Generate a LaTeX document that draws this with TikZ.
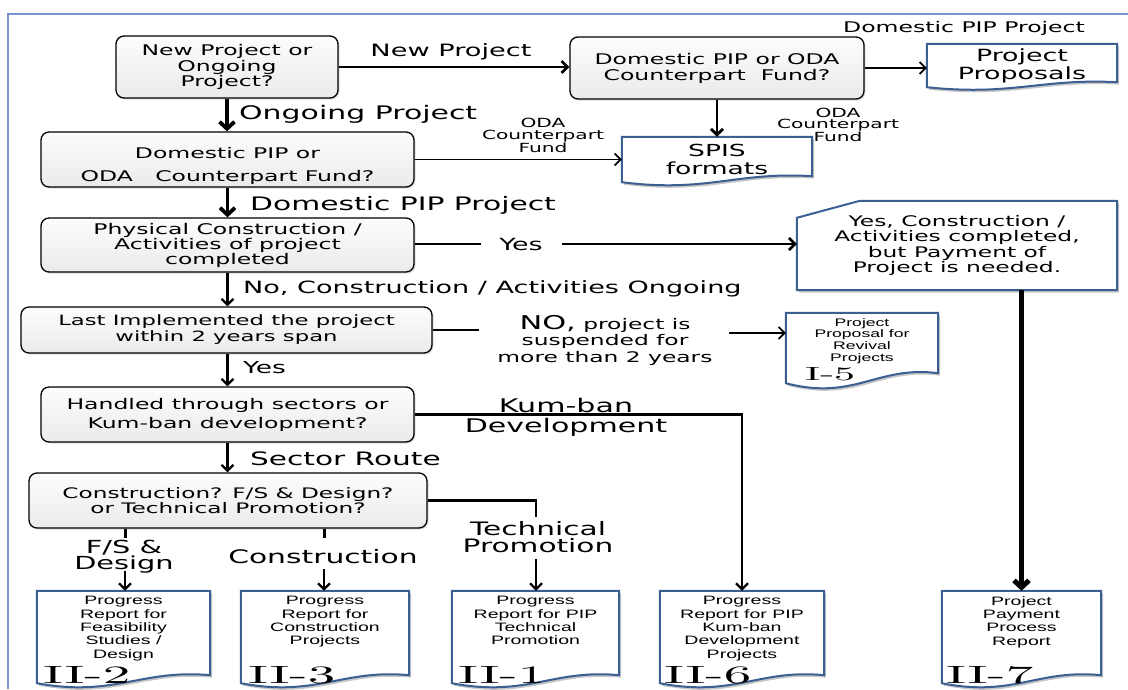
\documentclass[tikz,border=0pt]{standalone}
\usepackage{fontspec}
\setmainfont{DejaVu Sans}[FakeStretch=1.6]
\newfontfamily\arf{Liberation Sans}[FakeStretch=1.6]
\newfontfamily\cmf{lmroman10-regular}[Extension=.otf, FakeStretch=2.2]
\usetikzlibrary{arrows.meta,calc,backgrounds,shadows}
\definecolor{docblue}{RGB}{60,95,145}
\definecolor{framblue}{RGB}{120,150,205}
\newcommand\fsz[2]{\fontsize{#1}{#2}\selectfont}
\newcommand\mkdoc[2]{%
  \begin{scope}[transform canvas={shift={(2pt,-2.5pt)}}]
    \fill[gray!45] (#1.north west) -- (#1.north east) -- ($(#1.south east)+(0,-#2)$)
      .. controls ($(#1.south east)!0.4!(#1.south west)+(0,-1.8*#2)$) and ($(#1.south west)!0.45!(#1.south east)+(0,1.8*#2)$) .. (#1.south west) -- cycle;
  \end{scope}
  \draw[docline] (#1.north west) -- (#1.north east) -- ($(#1.south east)+(0,-#2)$)
      .. controls ($(#1.south east)!0.4!(#1.south west)+(0,-1.8*#2)$) and ($(#1.south west)!0.45!(#1.south east)+(0,1.8*#2)$) .. (#1.south west) -- cycle;
}
\begin{document}
\begin{tikzpicture}[x=1pt,y=-1pt,
  box/.style={rounded corners=8pt, draw=black, line width=1.3pt, top color=gray!2, bottom color=gray!16,
    align=center, inner sep=0pt, drop shadow={shadow xshift=1.5pt, shadow yshift=-1.5pt, opacity=0.25}},
  docn/.style={inner sep=0pt, align=center},
  docline/.style={draw=docblue, line width=2pt, fill=white},
  lbl/.style={inner sep=0pt, align=center},
  plain/.style={line width=2.2pt},
  conn/.style={line width=2.2pt, -{Straight Barb[length=6pt,width=12pt]}},
  bconn/.style={line width=3.8pt, -{Straight Barb[length=7pt,width=15pt]}},
]
\useasboundingbox (0,0) rectangle (1128,689);

% decision boxes
\node[box, minimum width=222pt, minimum height=62pt, font=\fsz{14.7}{15.5}] (n1) at (227,67) {New Project or\\Ongoing\\Project?};
\node[box, minimum width=294pt, minimum height=62pt, font=\fsz{14.7}{16}] (n2) at (717,68) {Domestic PIP or ODA\\Counterpart\ \ Fund?};
\node[box, minimum width=373pt, minimum height=55pt, font=\fsz{14.7}{23}] (n3) at (227.5,159.5) {\rule{0pt}{24pt}Domestic PIP or\\ODA\ \ \ Counterpart Fund?};
\node[box, minimum width=373pt, minimum height=54pt, font=\fsz{14.7}{15}] (n4) at (227.5,245) {Physical Construction /\\Activities of project\\completed};
\node[box, minimum width=411pt, minimum height=46pt, font=\fsz{14.2}{16}] (n5) at (226.5,330) {Last Implemented the project\\within 2 years span};
\node[box, minimum width=373pt, minimum height=55pt, font=\fsz{14.7}{19}] (n6) at (227.5,414.5) {Handled through sectors or\\Kum-ban development?};
\node[box, minimum width=398pt, minimum height=55pt, font=\fsz{14.5}{15}] (n7) at (228,500.5) {Construction? F/S \& Design?\\or Technical Promotion?};

% document nodes
\node[docn, minimum width=190pt, minimum height=43pt, font=\fsz{16.8}{18}] (pp) at (1022,65.5) {Project\\Proposals};
\node[docn, minimum width=190pt, minimum height=45pt, font=\fsz{16.6}{18}] (spis) at (717,159.5) {SPIS\\formats};
\node[docn, minimum width=152pt, minimum height=70pt] (i5) at (862,348) {};
\node[lbl, anchor=north, font=\arf\fsz{11}{11.7}] (i5t) at (862,318) {Project\\Proposal for\\Revival\\Projects};
\node[lbl, anchor=base west, font=\cmf\fsz{19}{20}] (i5l) at (805,380) {I-5};
\node[docn, minimum width=320pt, minimum height=89pt, font=\fsz{14.6}{15.5}] (card) at (957,245.5) {Yes, Construction /\\Activities completed,\\but Payment of\\Project is needed.};

\node[docn, minimum width=173pt, minimum height=92pt] (d2) at (123.5,637) {};
\node[docn, minimum width=168pt, minimum height=92pt] (d3) at (325,637) {};
\node[docn, minimum width=167pt, minimum height=92pt] (d1) at (535.5,637) {};
\node[docn, minimum width=164pt, minimum height=92pt] (d6) at (742,637) {};
\node[docn, minimum width=159pt, minimum height=92pt] (d7) at (1021.5,637) {};
\node[lbl, anchor=north, font=\arf\fsz{12.2}{13.4}] (d2t) at (123.5,596) {Progress\\Report for\\Feasibility\\Studies /\\Design};
\node[lbl, anchor=north, font=\arf\fsz{12.2}{13.4}] (d3t) at (325,596) {Progress\\Report for\\Construction\\Projects};
\node[lbl, anchor=north, font=\arf\fsz{12.2}{13.4}] (d1t) at (535.5,596) {Progress\\Report for PIP\\Technical\\Promotion};
\node[lbl, anchor=north, font=\arf\fsz{12.2}{13.4}] (d6t) at (742,596) {Progress\\Report for PIP\\Kum-ban\\Development\\Projects};
\node[lbl, anchor=north, font=\arf\fsz{12.2}{13.4}] (d7t) at (1021.5,596) {Project\\Payment\\Process\\Report};
\node[lbl, anchor=base west, font=\cmf\fsz{25}{25}] (d2l) at (43,683) {II-2};
\node[lbl, anchor=base west, font=\cmf\fsz{25}{25}] (d3l) at (248,683) {II-3};
\node[lbl, anchor=base west, font=\cmf\fsz{25}{25}] (d1l) at (458,683) {II-1};
\node[lbl, anchor=base west, font=\cmf\fsz{25}{25}] (d6l) at (664,683) {II-6};
\node[lbl, anchor=base west, font=\cmf\fsz{25}{25}] (d7l) at (946,683) {II-7};

% labels
\node[lbl, font=\fsz{17}{18}] (lnew) at (451,52) {New Project};
\node[lbl, anchor=west, font=\fsz{18.7}{20}] (lgo) at (239,114) {Ongoing Project};
\node[lbl, font=\fsz{14.7}{16}] (ldom1) at (964,28) {Domestic PIP Project};
\node[lbl, font=\fsz{12.6}{11.5}] (loda1) at (543,135.7) {ODA\\Counterpart\\Fund};
\node[lbl, font=\fsz{12.6}{11.5}] (loda2) at (838,125) {ODA\\Counterpart\\Fund};
\node[lbl, anchor=west, font=\fsz{18.6}{20}] (ldom2) at (250,205) {Domestic PIP Project};
\node[lbl, font=\fsz{16.8}{18}] (lyes1) at (521,244) {Yes};
\node[lbl, anchor=west, font=\fsz{16.9}{18}] (lnoc) at (243,289) {No, Construction / Activities Ongoing};
\node[lbl, font=\fsz{14.6}{16.5}] (lno) at (605,340) {{\fsz{19}{16.5}NO,} project is\\suspended for\\more than 2 years};
\node[lbl, anchor=west, font=\fsz{16.5}{18}] (lyes2) at (243,368) {Yes};
\node[lbl, font=\fsz{18.8}{20}] (lkum) at (566,417) {Kum-ban\\Development};
\node[lbl, anchor=west, font=\fsz{18.5}{20}] (lsec) at (250,459) {Sector Route};
\node[lbl, font=\fsz{18.5}{17}] (ltech) at (538,537) {Technical\\Promotion};
\node[lbl, font=\fsz{18}{15}] (lfs) at (124,557) {F/S \&\\Design};
\node[lbl, font=\fsz{18.6}{20}] (lcons) at (323,557) {Construction};

% free ends
\coordinate (y1a) at (481,244);
\coordinate (y1b) at (562,244);
\coordinate (noa) at (479,330);
\coordinate (nob) at (729,333);
\coordinate (tpa) at (536,517);
\coordinate (tpb) at (536,559);
\coordinate (fsa) at (125,538);
\coordinate (fsb) at (125,571);
\coordinate (csa) at (324,538);
\coordinate (csb) at (324,569);

% connectors
\draw[conn, line width=2.6pt] (n1.east) -- (n1.east -| n2.west);
\draw[conn, line width=1.8pt] (n2.east) -- (n2.east -| pp.west);
\draw[conn, line width=2.8pt] (n2.south) -- (spis.north);
\draw[conn, line width=1.8pt] (n3.east |- spis.west) -- (spis.west);
\draw[bconn] (n1.south) -- (n1.south |- n3.north);
\draw[bconn] (n3.south) -- (n3.south |- n4.north);
\draw[plain] (n4.east |- y1a) -- (y1a);
\draw[conn, line width=2.6pt] (y1b) -- (y1b -| card.west);
\draw[conn] (n4.south) -- (n4.south |- n5.north);
\draw[plain, line width=1.8pt] (n5.east |- noa) -- (noa);
\draw[conn, line width=1.8pt] (nob) -- (nob -| i5.west);
\draw[conn] (n5.south -| n4.south) -- (n4.south |- n6.north);
\draw[conn] (n6.east) -| (d6.north);
\draw[conn] (n6.south) -- (n6.south |- n7.north);
\draw[plain] (n7.east) -| (tpa);
\draw[conn] (tpb) -- (tpb |- d1.north);
\draw[plain, line width=3pt] (fsa |- n7.south) -- (fsa);
\draw[conn] (fsb) -- (fsb |- d2.north);
\draw[plain, line width=3pt] (csa |- n7.south) -- (csa);
\draw[conn] (csb) -- (csb |- d3.north);
\draw[bconn, line width=5pt] (card.south -| d7.north) -- (d7.north);

% background shapes
\begin{scope}[on background layer]
  \draw[framblue, line width=1.5pt] (8,689) -- (8,14) -- (1128,14);
  \mkdoc{pp}{5}
  \mkdoc{spis}{6}
  \mkdoc{i5}{10}
  \mkdoc{d2}{8}
  \mkdoc{d3}{8}
  \mkdoc{d1}{8}
  \mkdoc{d6}{8}
  \mkdoc{d7}{8}
  \begin{scope}[transform canvas={shift={(2pt,-2.5pt)}}]
    \fill[gray!45] ($(card.north west)+(0,17)$) -- ($(card.north west)+(63,0)$) -- (card.north east) -- (card.south east) -- (card.south west) -- cycle;
  \end{scope}
  \draw[docline] ($(card.north west)+(0,17)$) -- ($(card.north west)+(63,0)$) -- (card.north east) -- (card.south east) -- (card.south west) -- cycle;
\end{scope}
\end{tikzpicture}
\end{document}
